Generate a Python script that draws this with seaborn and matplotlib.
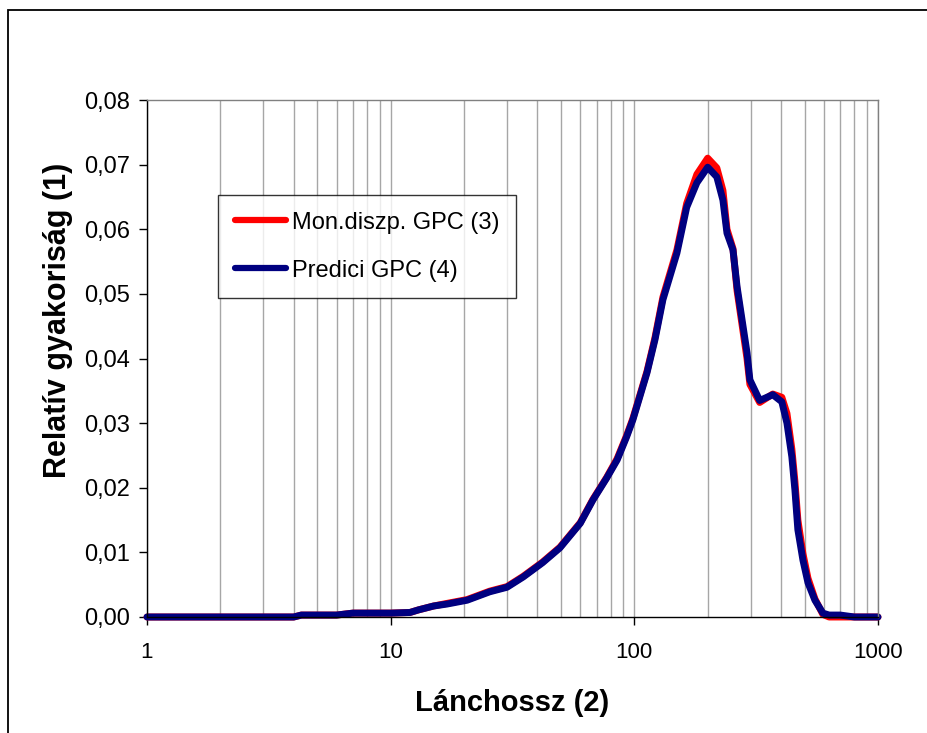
import matplotlib
matplotlib.use("Agg")
import matplotlib.pyplot as plt
import matplotlib.ticker as mticker
from matplotlib.patches import Rectangle
import seaborn as sns
import pandas as pd

# ---- data ----
chain_length = [1, 2, 3, 4, 4.3, 5, 6, 7, 8, 10, 12, 13, 15, 17, 20.6, 25.5, 30, 35, 42,
                49.5, 60, 67.6, 77, 85, 93, 98.6, 112.7, 121.5, 131, 149.5, 164, 180.6,
                200, 218, 231, 240, 254, 264, 290, 298, 327, 370, 403, 423, 443, 456,
                469, 492, 516, 551, 594, 630, 700, 800, 1000]
mon_diszp = [0, 0, 0, 0, 0.0003, 0.0003, 0.0003, 0.0006, 0.0006, 0.0006, 0.0007, 0.0011,
             0.0017, 0.0021, 0.0027, 0.0040, 0.0047, 0.0063, 0.0085, 0.0108, 0.0146,
             0.0182, 0.0216, 0.0245, 0.0281, 0.0307, 0.0380, 0.0432, 0.0495, 0.0568,
             0.0640, 0.0685, 0.0710, 0.0695, 0.0660, 0.0600, 0.0570, 0.0505, 0.0400,
             0.0360, 0.0332, 0.0345, 0.0340, 0.0315, 0.0260, 0.0210, 0.0150, 0.0098,
             0.0060, 0.0028, 0.0004, 0, 0, 0, 0]
predici = [0, 0, 0, 0, 0.0003, 0.0003, 0.0003, 0.0006, 0.0006, 0.0006, 0.0007, 0.0011,
           0.0017, 0.0020, 0.0026, 0.0039, 0.0046, 0.0062, 0.0084, 0.0107, 0.0145,
           0.0181, 0.0215, 0.0243, 0.0279, 0.0305, 0.0378, 0.0429, 0.0491, 0.0563,
           0.0634, 0.0672, 0.0696, 0.0681, 0.0645, 0.0594, 0.0568, 0.0511, 0.0409,
           0.0367, 0.0335, 0.0344, 0.0333, 0.0300, 0.0248, 0.0197, 0.0135, 0.0088,
           0.0053, 0.0026, 0.0006, 0.0003, 0.0003, 0, 0]
series_names = ["Mon.diszp. GPC (3)", "Predici GPC (4)"]
x_ticks = [1, 10, 100, 1000]
x_tick_labels = ["1", "10", "100", "1000"]
y_ticks = [0, 0.01, 0.02, 0.03, 0.04, 0.05, 0.06, 0.07, 0.08]

df = pd.DataFrame({
    "x": chain_length * 2,
    "y": mon_diszp + predici,
    "series": [series_names[0]] * len(chain_length) + [series_names[1]] * len(chain_length),
})

sns.set_style("white")
plt.rcParams["font.family"] = ["Liberation Sans", "DejaVu Sans"]
plt.rcParams["text.color"] = "black"
plt.rcParams["axes.labelcolor"] = "black"
plt.rcParams["xtick.color"] = "black"
plt.rcParams["ytick.color"] = "black"

fig = plt.figure(figsize=(9.28, 7.33), dpi=100)
ax = fig.add_axes([147 / 928, 116 / 733, 731 / 928, 517 / 733])

sns.lineplot(data=df, x="x", y="y", hue="series", palette=["#ff0000", "#000080"],
             estimator=None, sort=False, linewidth=5, ax=ax, legend=False)
for ln in ax.lines:
    ln.set_clip_on(False)
    ln.set_solid_joinstyle("round")

ax.set_xscale("log")
ax.set_xlim(1, 1000)
ax.set_ylim(0, 0.08)
ax.set_xticks(x_ticks)
ax.set_xticklabels(x_tick_labels)
ax.xaxis.set_minor_locator(mticker.LogLocator(base=10, subs=range(2, 10)))
ax.xaxis.set_minor_formatter(mticker.NullFormatter())
ax.set_yticks(y_ticks)
ax.yaxis.set_major_formatter(mticker.FuncFormatter(lambda v, p: f"{v:.2f}".replace(".", ",")))

ax.grid(True, which="both", axis="x", color="#a6a6a6", linewidth=1)
ax.grid(False, axis="y")
ax.set_axisbelow(True)

ax.tick_params(axis="x", which="major", direction="out", length=6, width=1,
               labelsize=16, pad=12, bottom=True)
ax.tick_params(axis="x", which="minor", length=0)
ax.tick_params(axis="y", direction="out", length=6, width=1,
               labelsize=17, pad=6, left=True)

for side in ["left", "bottom"]:
    ax.spines[side].set_color("black")
    ax.spines[side].set_linewidth(1)
for side in ["top", "right"]:
    ax.spines[side].set_color("#808080")
    ax.spines[side].set_linewidth(1)

ax.set_xlabel("Lánchossz (2)", fontsize=21, fontweight="bold", labelpad=19)
ax.set_ylabel("Relatív gyakoriság (1)", fontsize=22, fontweight="bold", labelpad=8,
              y=0.574)

leg = ax.legend(handles=ax.lines[:2], labels=series_names, loc="upper left",
                bbox_to_anchor=(71 / 731, 422 / 517), fontsize=17, frameon=True,
                fancybox=False, edgecolor="black", handlelength=2.2, handletextpad=0.25,
                labelspacing=1.1, borderpad=0.7, borderaxespad=0)
leg.get_frame().set_linewidth(1)
for h in leg.get_lines():
    h.set_linewidth(4.5)

fig.patches.append(Rectangle((8 / 928, -0.05), 1.2, (733 - 10) / 733 + 0.05,
                             transform=fig.transFigure, fill=False,
                             edgecolor="black", linewidth=1.3))

fig.savefig("out.png", dpi=100)
